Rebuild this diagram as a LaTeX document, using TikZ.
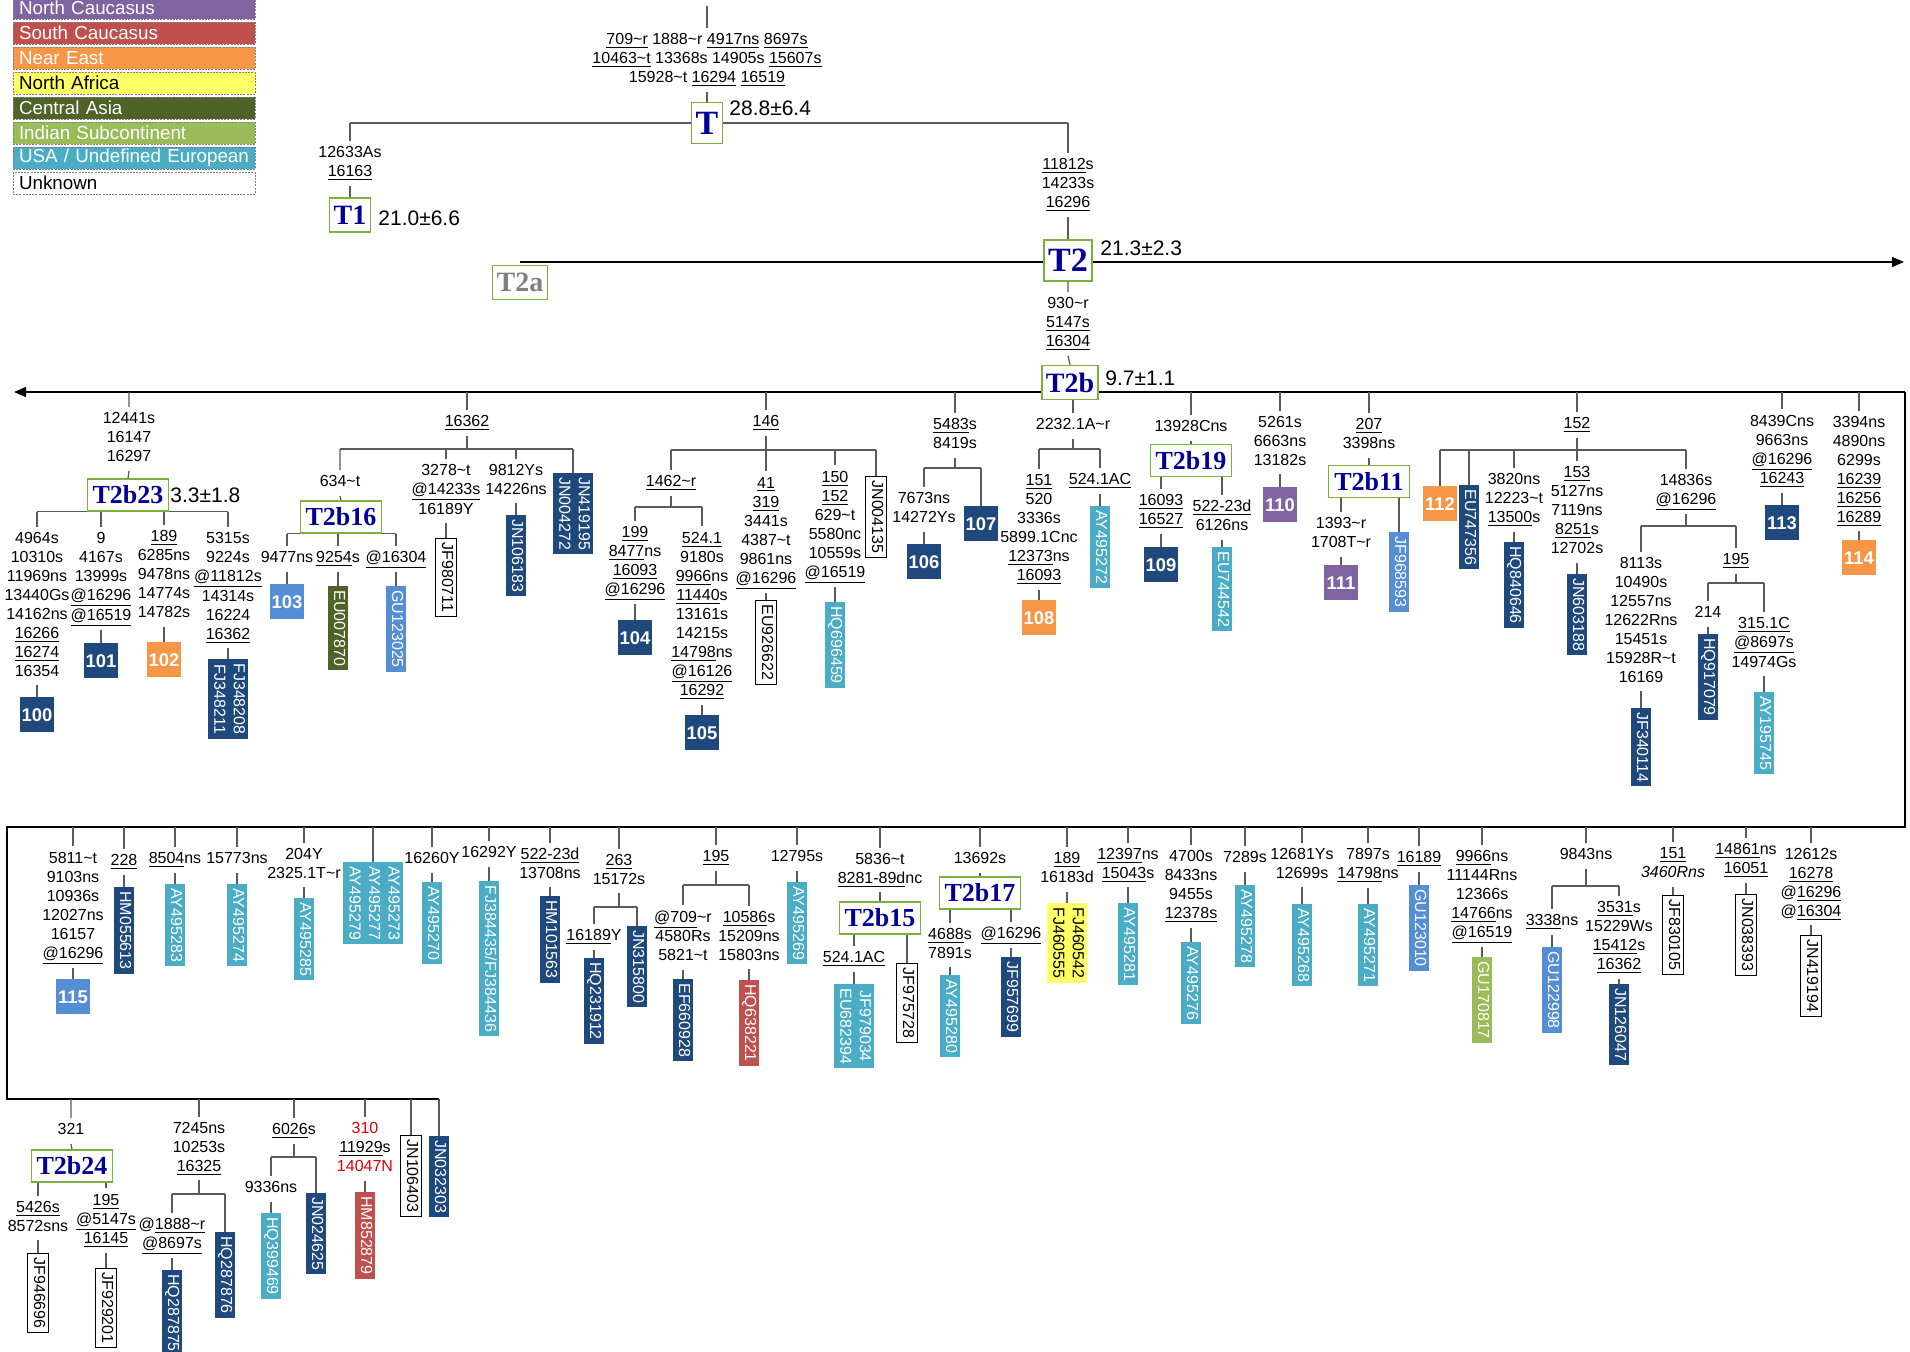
\documentclass[tikz,border=0pt]{standalone}
\usepackage{fontspec}
\setmainfont{Liberation Sans}
\newfontfamily\hapfont{Liberation Serif}
\usepackage{graphicx}
\usetikzlibrary{arrows.meta}
\pgfdeclarelayer{bg}
\pgfsetlayers{bg,main}
\definecolor{cNC}{HTML}{8064A2}
\definecolor{cSC}{HTML}{C0504D}
\definecolor{cNE}{HTML}{F79646}
\definecolor{cNA}{HTML}{FFFF66}
\definecolor{cCA}{HTML}{4F6228}
\definecolor{cIS}{HTML}{9BBB59}
\definecolor{cUS}{HTML}{4BACC6}
\definecolor{cDB}{HTML}{1F497D}
\definecolor{cMB}{HTML}{558ED5}
\definecolor{hapblue}{HTML}{000099}
\definecolor{hapgreen}{RGB}{122,176,60}
\definecolor{edgegray}{HTML}{5A5A5A}
\definecolor{redtxt}{HTML}{E00000}
\newcommand\uln[1]{\underline{#1}}
\newcommand\tild{\textasciitilde}
\newcommand\ls[1]{\begin{tabular}{@{}c@{}}#1\end{tabular}}
\newcommand\vt[1]{\rotatebox{-90}{\begin{tabular}{@{}c@{}}#1\end{tabular}}}
\newcommand\dL[3]{\draw[edge] (#2.north |- #1) -- (#2.north) (#2.south) -- (#3.north);}
\newcommand\dN[2]{\draw[edge] (#2.north |- #1) -- (#2.north);}
\newcommand\hb[3]{\draw[edge] (#2.north |- #1) -- (#3.north |- #1);}
\tikzset{
 edge/.style={draw=edgegray, line width=0.65pt},
 mainln/.style={draw=black, line width=0.7pt},
 lab/.style={font=\fontsize{8}{9.5}\selectfont, inner xsep=0pt, inner ysep=1.5pt},
 age/.style={font=\fontsize{10.5}{12}\selectfont, anchor=west, inner sep=0pt},
 hapbase/.style={draw=hapgreen, line width=0.75pt, fill=white, text=hapblue, inner xsep=2pt, inner ysep=0pt},
 hapL/.style={hapbase, font=\hapfont\bfseries\fontsize{17}{17}\selectfont, minimum height=20.5pt},
 hapM/.style={hapbase, font=\hapfont\bfseries\fontsize{14}{14}\selectfont, minimum height=17pt},
 hapS/.style={hapbase, font=\hapfont\bfseries\fontsize{13}{13}\selectfont, minimum height=16pt, minimum width=40.5pt},
 numbox/.style={anchor=north, minimum width=17pt, minimum height=17.5pt, inner sep=0pt, text=white, font=\bfseries\fontsize{9.2}{10}\selectfont},
 vsam/.style={anchor=north, inner xsep=0.3pt, inner ysep=2pt, text=white, font=\fontsize{8}{9.7}\selectfont},
 unk/.style={vsam, fill=white, draw=black, line width=0.5pt, text=black},
 legbox/.style={draw=gray, dash pattern=on 1pt off 0.6pt, line width=0.4pt, minimum height=11pt, text width=115pt, align=left, inner xsep=3pt, inner ysep=0pt, font=\fontsize{9.4}{10}\selectfont},
}
\begin{document}
\begin{tikzpicture}[x=0.5pt,y=-0.5pt]
\useasboundingbox (0,0) rectangle (1910,1351);
% legend
\node[legbox, fill=cNC, text=white] (lg1) at (134,8) {North Caucasus};
\node[legbox, fill=cSC, text=white] (lg2) at (134,33) {South Caucasus};
\node[legbox, fill=cNE, text=white] (lg3) at (134,58) {Near East};
\node[legbox, fill=cNA, text=black] (lg4) at (134,83) {North Africa};
\node[legbox, fill=cCA, text=white] (lg5) at (134,108) {Central Asia};
\node[legbox, fill=cIS, text=white] (lg6) at (134,133) {Indian Subcontinent};
\node[legbox, fill=cUS, text=white] (lg7) at (134,158) {USA / Undefined European};
\node[legbox, fill=white, text=black] (lg8) at (134,183) {Unknown};
% top
\coordinate (top0) at (707,6);
\node[lab] (Ltop) at (707,60) {\ls{\uln{709\tild r} 1888\tild r \uln{4917ns} \uln{8697s}\\\uln{10463\tild t} 13368s 14905s \uln{15607s}\\15928\tild t \uln{16294} \uln{16519}}};
\node[hapL] (T) at (707,123) {T};
\node[age] (aT) at (729,108) {28.8±6.4};
\coordinate (cT1) at (350,123);
\coordinate (cT2) at (1068,123);
\node[lab] (L1) at (350,163.5) {\ls{12633As\\\uln{16163}}};
\node[hapM] (T1) at (350,215) {T1};
\node[age] (aT1) at (378,218) {21.0±6.6};
\node[lab] (L2) at (1068,185) {\ls{\uln{11812}s\\14233s\\\uln{16296}}};
\node[hapL] (T2) at (1068,260.5) {T2};
\node[age] (aT2) at (1100,248) {21.3±2.3};
\coordinate (cT2a) at (520,262);
\coordinate (cT2e) at (1904,262);
\node[hapM, text=gray] (T2a) at (520,282.5) {T2a};
\node[lab] (L2b) at (1068,324) {\ls{930\tild r\\\uln{5147s}\\\uln{16304}}};
\node[hapM] (T2b) at (1070,382.5) {T2b};
\node[age] (aT2b) at (1105,378) {9.7±1.1};
\coordinate (r1L) at (14,392);
\coordinate (r1R) at (1905,392);
\coordinate (r2R) at (1905,827);
\coordinate (r2L) at (7,827);
\coordinate (r3L) at (7,1099);
\coordinate (r3R) at (439,1099);
% ---- row 1
\node[lab] (L23) at (129,439) {\ls{12441s\\16147\\16297}};
\node[hapS] (T2b23) at (128,495) {T2b23};
\node[age] (aT2b23) at (170,495) {3.3±1.8};
\node[lab] (L23a) at (37,606) {\ls{4964s\\10310s\\11969ns\\13440Gs\\14162ns\\\uln{16266}\\\uln{16274}\\16354}};
\node[numbox, fill=cDB] (n100) at (37,697) {100};
\node[lab] (L23b) at (101,578.5) {\ls{9\\4167s\\13999s\\\uln{@16296}\\\uln{@16519}}};
\node[numbox, fill=cDB] (n101) at (101,643) {101};
\node[lab] (L23c) at (164,576) {\ls{\uln{189}\\6285ns\\9478ns\\14774s\\14782s}};
\node[numbox, fill=cNE] (n102) at (164,642) {102};
\node[lab] (L23d) at (228,587.5) {\ls{5315s\\9224s\\\uln{@11812s}\\14314s\\16224\\\uln{16362}}};
\node[vsam, fill=cDB] (sFJ348) at (228,659) {\vt{FJ348208\\FJ348211}};
\node[lab] (L16362) at (467,423) {\ls{\uln{16362}}};
\coordinate (b16) at (467,449);
\node[lab] (L634) at (340,483) {\ls{634\tild t}};
\node[hapS] (T2b16) at (341,517) {T2b16};
\node[lab] (L9477) at (287,559) {\ls{9477ns}};
\node[numbox, fill=cMB] (n103) at (287,584) {103};
\node[lab] (L9254) at (338,559) {\ls{\uln{9254}s}};
\node[vsam, fill=cCA] (sEU007870) at (338,586) {\vt{EU007870}};
\node[lab] (L16304) at (396,559) {\ls{\uln{@16304}}};
\node[vsam, fill=cMB] (sGU123025) at (396,586) {\vt{GU123025}};
\node[lab] (L3278) at (446,491) {\ls{3278\tild t\\\uln{@14233s}\\16189Y}};
\node[unk] (sJF980711) at (446,538) {\vt{JF980711}};
\node[lab] (L9812) at (516,481) {\ls{9812Ys\\14226ns}};
\node[vsam, fill=cDB] (sJN106183) at (516,515) {\vt{JN106183}};
\node[vsam, fill=cDB] (sJN419195) at (573,473) {\vt{JN419195\\JN004272}};
\node[lab] (L146) at (766,423) {\ls{\uln{146}}};
\coordinate (b146) at (766,450);
\node[lab] (L1462) at (671,483) {\ls{\uln{1462\tild r}}};
\coordinate (b1462) at (671,507);
\node[lab] (L199) at (635,562.5) {\ls{\uln{199}\\\uln{8477}ns\\\uln{16093}\\\uln{@16296}}};
\node[numbox, fill=cDB] (n104) at (635,620) {104};
\node[lab] (L5241) at (702,615.5) {\ls{\uln{524.1}\\9180s\\\uln{9966}ns\\\uln{11440}s\\13161s\\14215s\\\uln{14798}ns\\\uln{@16126}\\\uln{16292}}};
\node[numbox, fill=cDB] (n105) at (702,715) {105};
\node[lab] (L41) at (766,532) {\ls{\uln{41}\\\uln{319}\\3441s\\4387\tild t\\9861ns\\\uln{@16296}}};
\node[unk] (sEU926622) at (766,600) {\vt{EU926622}};
\node[lab] (L150) at (835,526) {\ls{\uln{150}\\\uln{152}\\629\tild t\\5580nc\\10559s\\\uln{@16519}}};
\node[vsam, fill=cUS] (sHQ696459) at (835,602) {\vt{HQ696459}};
\node[unk] (sJN004135) at (876,476) {\vt{JN004135}};
\node[lab] (L5483) at (955,435.5) {\ls{\uln{5483}s\\8419s}};
\coordinate (b5483) at (955,468);
\node[lab] (L7673) at (924,509.5) {\ls{7673ns\\14272Ys}};
\node[numbox, fill=cDB] (n106) at (924,544) {106};
\node[numbox, fill=cDB] (n107) at (981,506) {107};
\node[lab] (L2232) at (1073,426) {\ls{2232.1A\tild r}};
\coordinate (b2232) at (1073,449);
\node[lab] (L151) at (1039,529.5) {\ls{\uln{151}\\520\\3336s\\5899.1Cnc\\\uln{12373}ns\\\uln{16093}}};
\node[numbox, fill=cNE] (n108) at (1039,600) {108};
\node[lab] (L5241AC) at (1100,481) {\ls{\uln{524.1AC}}};
\node[vsam, fill=cUS] (sAY495272) at (1100,506) {\vt{AY495272}};
\node[lab] (L13928) at (1191,428) {\ls{13928Cns}};
\node[hapS] (T2b19) at (1191,460.5) {T2b19};
\node[lab] (L16093) at (1161,511.5) {\ls{\uln{16093}\\\uln{16527}}};
\node[numbox, fill=cDB] (n109) at (1161,547) {109};
\node[lab] (L52223) at (1222,517.5) {\ls{\uln{522-23d}\\6126ns}};
\node[vsam, fill=cUS] (sEU744542) at (1222,547) {\vt{EU744542}};
\node[lab] (L5261) at (1280,442.5) {\ls{5261s\\6663ns\\13182s}};
\node[numbox, fill=cNC] (n110) at (1280,487) {110};
\node[lab] (L207) at (1369,435.5) {\ls{\uln{207}\\3398ns}};
\node[hapS] (T2b11) at (1369,481.5) {T2b11};
\node[lab] (L1393) at (1341,534.5) {\ls{1393\tild r\\1708T\tild r}};
\node[numbox, fill=cNC] (n111) at (1341,565) {111};
\node[vsam, fill=cMB] (sJF968593) at (1399,532) {\vt{JF968593}};
\node[lab] (L152) at (1577,425) {\ls{\uln{152}}};
\coordinate (b152) at (1577,450);
\node[numbox, fill=cNE] (n112) at (1440,486) {112};
\node[vsam, fill=cDB] (sEU747356) at (1469,485) {\vt{EU747356}};
\node[lab] (L3820) at (1514,500) {\ls{3820ns\\12223\tild t\\\uln{13500}s}};
\node[vsam, fill=cDB] (sHQ840646) at (1514,542) {\vt{HQ840646}};
\node[lab] (L153) at (1577,512) {\ls{\uln{153}\\5127ns\\7119ns\\\uln{8251}s\\12702s}};
\node[vsam, fill=cDB] (sJN603188) at (1577,574) {\vt{JN603188}};
\node[lab] (L14836) at (1686,491.5) {\ls{14836s\\\uln{@16296}}};
\coordinate (b14836) at (1686,526);
\node[lab] (L8113) at (1641,621.5) {\ls{8113s\\10490s\\12557ns\\12622Rns\\15451s\\15928R\tild t\\16169}};
\node[vsam, fill=cDB] (sJF340114) at (1641,708) {\vt{JF340114}};
\node[lab] (L195a) at (1736,561) {\ls{\uln{195}}};
\coordinate (b195a) at (1736,583);
\node[lab] (L214) at (1708,614) {\ls{214}};
\node[vsam, fill=cDB] (sHQ917079) at (1708,634) {\vt{HQ917079}};
\node[lab] (L3151C) at (1764,644) {\ls{\uln{315.1C}\\\uln{@8697s}\\14974Gs}};
\node[vsam, fill=cUS] (sAY195745) at (1764,692) {\vt{AY195745}};
\node[lab] (L8439) at (1782,451) {\ls{8439Cns\\9663ns\\\uln{@16296}\\\uln{16243}}};
\node[numbox, fill=cDB] (n113) at (1782,505) {113};
\node[lab] (L3394) at (1859,471) {\ls{3394ns\\4890ns\\6299s\\\uln{16239}\\\uln{16256}\\\uln{16289}}};
\node[numbox, fill=cNE] (n114) at (1859,540) {114};
% ---- row 2
\node[lab] (L5811) at (73,907) {\ls{5811\tild t\\9103ns\\10936s\\12027ns\\16157\\\uln{@16296}}};
\node[numbox, fill=cMB] (n115) at (73,979) {115};
\node[lab] (L228) at (124,862) {\ls{\uln{228}}};
\node[vsam, fill=cDB] (sHM055613) at (124,887) {\vt{HM055613}};
\node[lab] (L8504) at (175,860) {\ls{\uln{8504}ns}};
\node[vsam, fill=cUS] (sAY495283) at (175,884) {\vt{AY495283}};
\node[lab] (L15773) at (237,860) {\ls{15773ns}};
\node[vsam, fill=cUS] (sAY495274) at (237,884) {\vt{AY495274}};
\node[lab] (L204Y) at (304,865) {\ls{204Y\\2325.1T\tild r}};
\node[vsam, fill=cUS] (sAY495285) at (304,898) {\vt{AY495285}};
\node[vsam, fill=cUS] (sAY495273) at (373,862) {\vt{AY495273\\AY495277\\AY495279}};
\node[lab] (L16260Y) at (432,860) {\ls{16260Y}};
\node[vsam, fill=cUS] (sAY495270) at (432,882) {\vt{AY495270}};
\node[lab] (L16292Y) at (489,854) {\ls{16292Y}};
\node[vsam, fill=cUS] (sFJ384435) at (489,881) {\vt{FJ384435/FJ384436}};
\node[lab] (L52223b) at (550,865) {\ls{\uln{522-23d}\\13708ns}};
\node[vsam, fill=cDB] (sHM101563) at (550,896) {\vt{HM101563}};
\node[lab] (L263) at (619,871) {\ls{\uln{263}\\15172s}};
\coordinate (b263) at (619,907);
\node[lab] (L16189Y) at (594,937) {\ls{\uln{16189}Y}};
\node[vsam, fill=cDB] (sHQ231912) at (594,958) {\vt{HQ231912}};
\node[vsam, fill=cDB] (sJN315800) at (637,926) {\vt{JN315800}};
\node[lab] (L195b) at (716,858) {\ls{\uln{195}}};
\coordinate (b195b) at (716,885);
\node[lab] (L709) at (683,937.5) {\ls{\uln{@709}\tild r\\4580Rs\\5821\tild t}};
\node[vsam, fill=cDB] (sEF660928) at (683,979) {\vt{EF660928}};
\node[lab] (L10586) at (749,937.5) {\ls{\uln{10586}s\\15209ns\\15803ns}};
\node[vsam, fill=cSC] (sHQ638221) at (749,980) {\vt{HQ638221}};
\node[lab] (L12795) at (797,858) {\ls{12795s}};
\node[vsam, fill=cUS] (sAY495269) at (797,882) {\vt{AY495269}};
\node[lab] (L5836) at (880,870) {\ls{5836\tild t\\\uln{8281-89d}nc}};
\node[hapS] (T2b15) at (880,918) {T2b15};
\node[lab] (L5241AC2) at (854,959) {\ls{\uln{524.1AC}}};
\node[vsam, fill=cUS] (sJF979034) at (854,984) {\vt{JF979034\\EU682394}};
\node[unk] (sJF975728) at (907,963) {\vt{JF975728}};
\node[lab] (L13692) at (980,860) {\ls{13692s}};
\node[hapS] (T2b17) at (980,893) {T2b17};
\node[lab] (L4688) at (950,945) {\ls{\uln{4688}s\\7891s}};
\node[vsam, fill=cUS] (sAY495280) at (950,975) {\vt{AY495280}};
\node[lab] (L16296c) at (1011,935) {\ls{\uln{@16296}}};
\node[vsam, fill=cDB] (sJF957699) at (1011,957) {\vt{JF957699}};
\node[lab] (L189b) at (1067,869.5) {\ls{\uln{189}\\16183d}};
\node[vsam, fill=cNA, text=black] (sFJ460542) at (1067,903) {\vt{FJ460542\\FJ460555}};
\node[lab] (L12397) at (1128,865) {\ls{\uln{12397}ns\\\uln{15043}s}};
\node[vsam, fill=cUS] (sAY495281) at (1128,903) {\vt{AY495281}};
\node[lab] (L4700) at (1191,886.5) {\ls{4700s\\8433ns\\9455s\\\uln{12378s}}};
\node[vsam, fill=cUS] (sAY495276) at (1191,942) {\vt{AY495276}};
\node[lab] (L7289) at (1245,859) {\ls{7289s}};
\node[vsam, fill=cUS] (sAY495278) at (1245,885) {\vt{AY495278}};
\node[lab] (L12681) at (1302,865) {\ls{12681Ys\\12699s}};
\node[vsam, fill=cUS] (sAY495268) at (1302,904) {\vt{AY495268}};
\node[lab] (L7897) at (1368,865.5) {\ls{7897s\\\uln{14798}ns}};
\node[vsam, fill=cUS] (sAY495271) at (1368,904) {\vt{AY495271}};
\node[lab] (L16189) at (1419,859) {\ls{\uln{16189}}};
\node[vsam, fill=cMB] (sGU123010) at (1419,885) {\vt{GU123010}};
\node[lab] (L9966) at (1482,896) {\ls{\uln{9966}ns\\11144Rns\\12366s\\\uln{14766}ns\\\uln{@16519}}};
\node[vsam, fill=cIS] (sGU170817) at (1482,957) {\vt{GU170817}};
\node[lab] (L9843) at (1586,856) {\ls{9843ns}};
\coordinate (b9843) at (1586,886);
\node[lab] (L3338) at (1552,922) {\ls{\uln{3338}ns}};
\node[vsam, fill=cMB] (sGU122998) at (1552,947) {\vt{GU122998}};
\node[lab] (L3531) at (1619,937.5) {\ls{\uln{3531}s\\15229Ws\\\uln{15412}s\\\uln{16362}}};
\node[vsam, fill=cDB] (sJN126047) at (1619,984) {\vt{JN126047}};
\node[lab] (L151b) at (1673,864.5) {\ls{\uln{151}\\\textit{3460Rns}}};
\node[unk] (sJF830105) at (1673,895) {\vt{JF830105}};
\node[lab] (L14861) at (1746,860.5) {\ls{\uln{14861}ns\\\uln{16051}}};
\node[unk] (sJN038393) at (1746,894) {\vt{JN038393}};
\node[lab] (L12612) at (1811,884) {\ls{12612s\\\uln{16278}\\@\uln{16296}\\@\uln{16304}}};
\node[unk] (sJN419194) at (1811,935) {\vt{JN419194}};
% ---- row 3
\node[lab] (L321) at (71,1131) {\ls{321}};
\node[hapS] (T2b24) at (72,1166) {T2b24};
\node[lab] (L5426) at (38,1218) {\ls{\uln{5426s}\\8572sns}};
\node[unk] (sJF946696) at (38,1253) {\vt{JF946696}};
\node[lab] (L195c) at (106,1220.5) {\ls{\uln{195}\\\uln{@5147s}\\\uln{16145}}};
\node[unk] (sJF929201) at (106,1268) {\vt{JF929201}};
\node[lab] (L7245) at (199,1148.5) {\ls{7245ns\\10253s\\\uln{16325}}};
\coordinate (b7245) at (199,1194);
\node[lab] (L1888) at (172,1235.5) {\ls{@\uln{1888\tild r}\\\uln{@8697s}}};
\node[vsam, fill=cDB] (sHQ287875) at (172,1270) {\vt{HQ287875}};
\node[vsam, fill=cDB] (sHQ287876) at (225,1232) {\vt{HQ287876}};
\node[lab] (L6026) at (294,1131) {\ls{\uln{6026}s}};
\coordinate (b6026) at (294,1157);
\node[lab] (L9336) at (271,1189) {\ls{9336ns}};
\node[vsam, fill=cUS] (sHQ399469) at (271,1213) {\vt{HQ399469}};
\node[vsam, fill=cDB] (sJN024625) at (316,1193) {\vt{JN024625}};
\node[lab] (L310) at (365,1149) {\ls{\textcolor{redtxt}{310}\\\uln{11929}s\\\textcolor{redtxt}{14047N}}};
\node[vsam, fill=cSC] (sHM852879) at (365,1192) {\vt{HM852879}};
\node[unk] (sJN106403) at (411,1135) {\vt{JN106403}};
\node[vsam, fill=cDB] (sJN032303) at (439,1136) {\vt{JN032303}};
% ---- connectors
\begin{pgfonlayer}{bg}
\draw[edge, line width=0.9pt] (cT1) -- (cT2);
\draw[edge] (top0) -- (Ltop.north) (Ltop.south) -- (T.north);
\dL{cT1}{L1}{T1}
\dL{cT2}{L2}{T2}
\draw[mainln, -{Triangle[length=6pt,width=5pt]}] (cT2a) -- (cT2e);
\draw[edge] (T2.south) -- (L2b.north) (L2b.south) -- (T2b.north);
\draw[mainln, -{Triangle[length=6pt,width=5pt]}] (r1R) -- (r1L);
\draw[mainln] (r1R) -- (r2R) -- (r2L) -- (r3L) -- (r3R);
% row 1
\dL{r1L}{L23}{T2b23}
\hb{T2b23.south}{L23a}{L23d}
\dL{T2b23.south}{L23a}{n100}
\dL{T2b23.south}{L23b}{n101}
\dL{T2b23.south}{L23c}{n102}
\dL{T2b23.south}{L23d}{sFJ348}
\draw[edge] (L16362.north |- r1L) -- (L16362.north) (L16362.south) -- (b16);
\hb{b16}{L634}{sJN419195}
\dL{b16}{L634}{T2b16}
\hb{T2b16.south}{L9477}{L16304}
\dL{T2b16.south}{L9477}{n103}
\dL{T2b16.south}{L9254}{sEU007870}
\dL{T2b16.south}{L16304}{sGU123025}
\dL{b16}{L3278}{sJF980711}
\dL{b16}{L9812}{sJN106183}
\dN{b16}{sJN419195}
\draw[edge] (L146.north |- r1L) -- (L146.north) (L146.south) -- (b146);
\hb{b146}{L1462}{sJN004135}
\draw[edge] (L1462.north |- b146) -- (L1462.north) (L1462.south) -- (b1462);
\hb{b1462}{L199}{L5241}
\dL{b1462}{L199}{n104}
\dL{b1462}{L5241}{n105}
\dL{b146}{L41}{sEU926622}
\dL{b146}{L150}{sHQ696459}
\dN{b146}{sJN004135}
\draw[edge] (L5483.north |- r1L) -- (L5483.north) (L5483.south) -- (b5483);
\hb{b5483}{L7673}{n107}
\dL{b5483}{L7673}{n106}
\dN{b5483}{n107}
\draw[edge] (L2232.north |- T2b.south) -- (L2232.north) (L2232.south) -- (b2232);
\hb{b2232}{L151}{L5241AC}
\dL{b2232}{L151}{n108}
\dL{b2232}{L5241AC}{sAY495272}
\dL{r1L}{L13928}{T2b19}
\dL{T2b19.south}{L16093}{n109}
\dL{T2b19.south}{L52223}{sEU744542}
\dL{r1L}{L5261}{n110}
\dL{r1L}{L207}{T2b11}
\dL{T2b11.south}{L1393}{n111}
\dN{T2b11.south}{sJF968593}
\draw[edge] (L152.north |- r1L) -- (L152.north) (L152.south) -- (b152);
\hb{b152}{n112}{L14836}
\dN{b152}{n112}
\dN{b152}{sEU747356}
\dL{b152}{L3820}{sHQ840646}
\dL{b152}{L153}{sJN603188}
\draw[edge] (L14836.north |- b152) -- (L14836.north) (L14836.south) -- (b14836);
\hb{b14836}{L8113}{L195a}
\dL{b14836}{L8113}{sJF340114}
\draw[edge] (L195a.north |- b14836) -- (L195a.north) (L195a.south) -- (b195a);
\hb{b195a}{L214}{L3151C}
\dL{b195a}{L214}{sHQ917079}
\dL{b195a}{L3151C}{sAY195745}
\dL{r1L}{L8439}{n113}
\dL{r1L}{L3394}{n114}
% row 2
\dL{r2L}{L5811}{n115}
\dL{r2L}{L228}{sHM055613}
\dL{r2L}{L8504}{sAY495283}
\dL{r2L}{L15773}{sAY495274}
\dL{r2L}{L204Y}{sAY495285}
\dN{r2L}{sAY495273}
\dL{r2L}{L16260Y}{sAY495270}
\dL{r2L}{L16292Y}{sFJ384435}
\dL{r2L}{L52223b}{sHM101563}
\draw[edge] (L263.north |- r2L) -- (L263.north) (L263.south) -- (b263);
\hb{b263}{L16189Y}{sJN315800}
\dL{b263}{L16189Y}{sHQ231912}
\dN{b263}{sJN315800}
\draw[edge] (L195b.north |- r2L) -- (L195b.north) (L195b.south) -- (b195b);
\hb{b195b}{L709}{L10586}
\dL{b195b}{L709}{sEF660928}
\dL{b195b}{L10586}{sHQ638221}
\dL{r2L}{L12795}{sAY495269}
\dL{r2L}{L5836}{T2b15}
\dL{T2b15.south}{L5241AC2}{sJF979034}
\dN{T2b15.south}{sJF975728}
\dL{r2L}{L13692}{T2b17}
\dL{T2b17.south}{L4688}{sAY495280}
\dL{T2b17.south}{L16296c}{sJF957699}
\dL{r2L}{L189b}{sFJ460542}
\dL{r2L}{L12397}{sAY495281}
\dL{r2L}{L4700}{sAY495276}
\dL{r2L}{L7289}{sAY495278}
\dL{r2L}{L12681}{sAY495268}
\dL{r2L}{L7897}{sAY495271}
\dL{r2L}{L16189}{sGU123010}
\dL{r2L}{L9966}{sGU170817}
\draw[edge] (L9843.north |- r2L) -- (L9843.north) (L9843.south) -- (b9843);
\hb{b9843}{L3338}{L3531}
\dL{b9843}{L3338}{sGU122998}
\dL{b9843}{L3531}{sJN126047}
\dL{r2L}{L151b}{sJF830105}
\dL{r2L}{L14861}{sJN038393}
\dL{r2L}{L12612}{sJN419194}
% row 3
\dL{r3L}{L321}{T2b24}
\dL{T2b24.south}{L5426}{sJF946696}
\dL{T2b24.south}{L195c}{sJF929201}
\draw[edge] (L7245.north |- r3L) -- (L7245.north) (L7245.south) -- (b7245);
\hb{b7245}{L1888}{sHQ287876}
\dL{b7245}{L1888}{sHQ287875}
\dN{b7245}{sHQ287876}
\draw[edge] (L6026.north |- r3L) -- (L6026.north) (L6026.south) -- (b6026);
\hb{b6026}{L9336}{sJN024625}
\dL{b6026}{L9336}{sHQ399469}
\dN{b6026}{sJN024625}
\dL{r3L}{L310}{sHM852879}
\dN{r3L}{sJN106403}
\dN{r3L}{sJN032303}
\end{pgfonlayer}
\end{tikzpicture}
\end{document}
